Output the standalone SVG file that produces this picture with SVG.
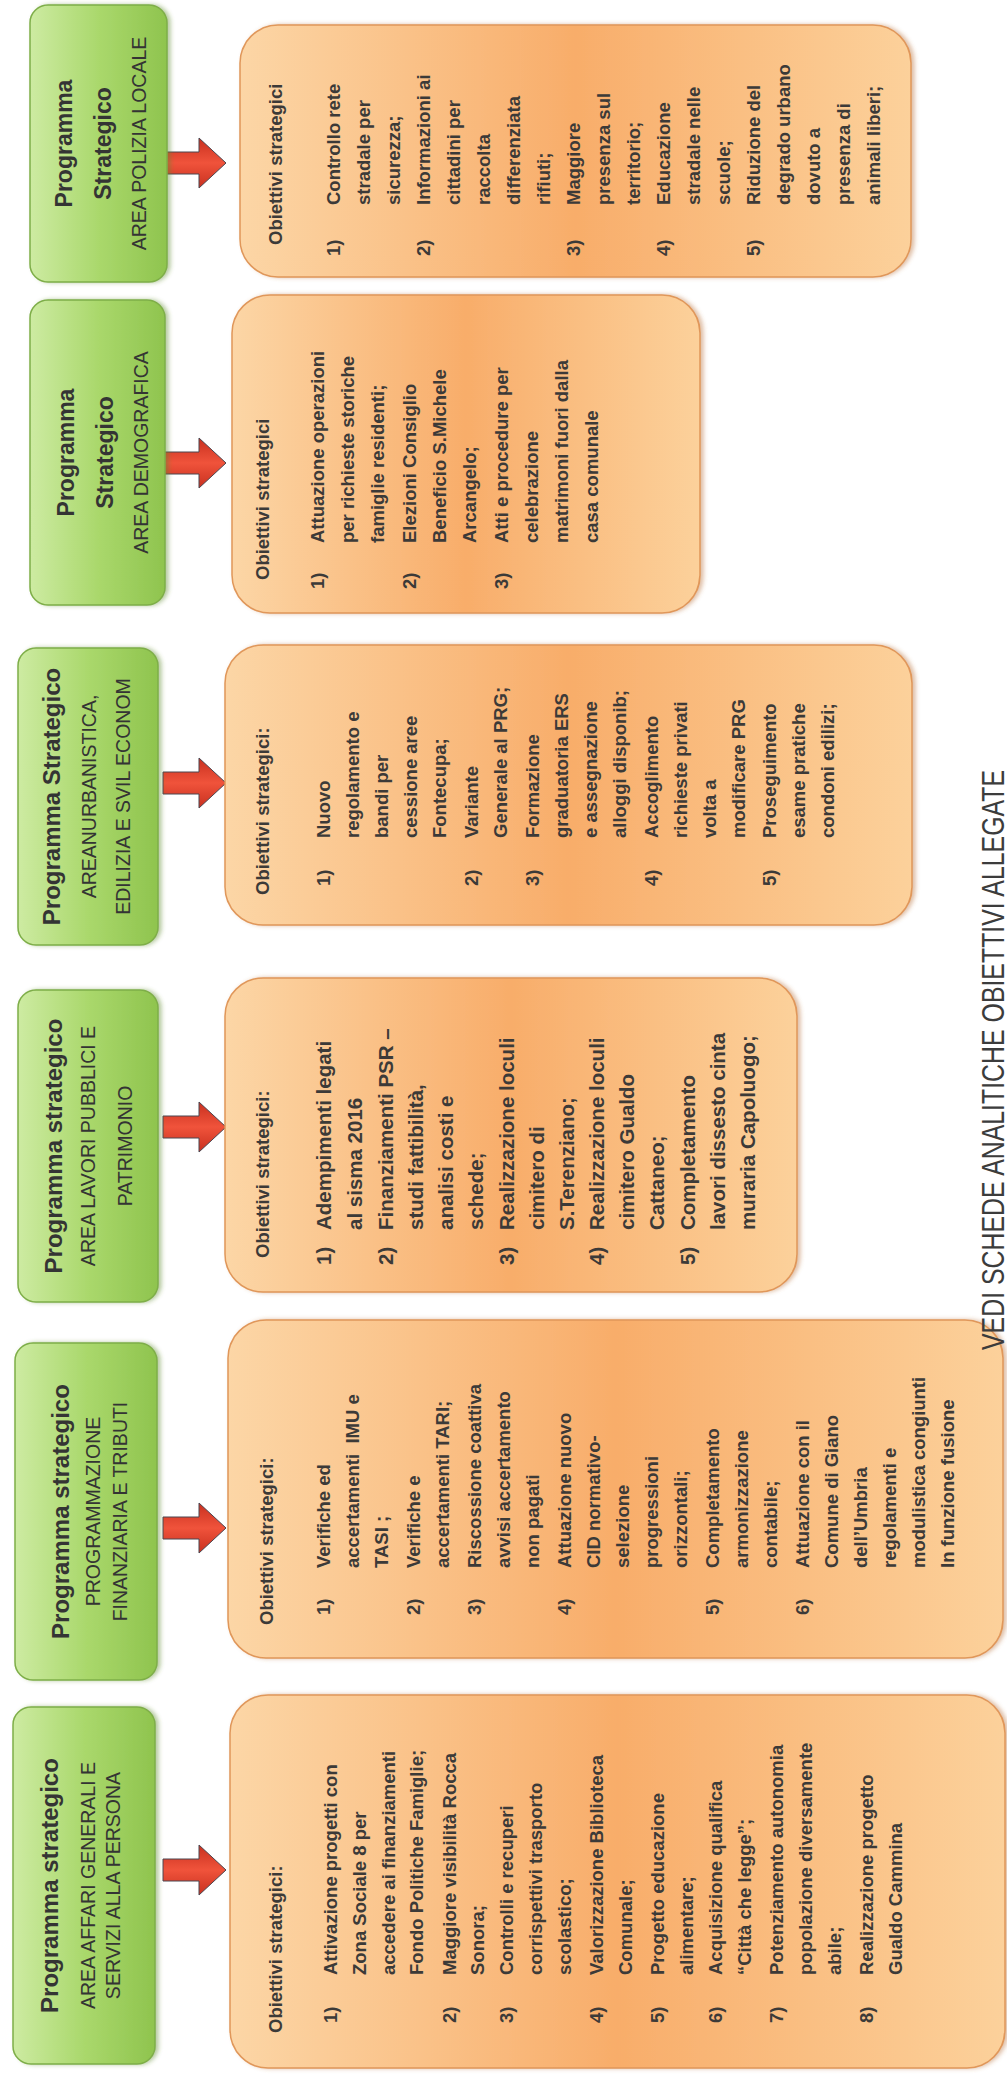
<svg xmlns="http://www.w3.org/2000/svg" xmlns:xlink="http://www.w3.org/1999/xlink" width="1007" height="2075" viewBox="0 0 1007 2075">
<style>
.gbox{fill:url(#gg);stroke:#7eae48;stroke-width:1.5;filter:url(#gsh)}
.obox{fill:url(#og);stroke:#e0975a;stroke-width:1.5;filter:url(#osh)}
.arr{fill:url(#ag);stroke:#4b4650;stroke-width:1}
.gt{font-family:"Liberation Sans",Arial,sans-serif;font-weight:bold;font-size:23px;fill:#343434;text-anchor:middle}
.gt2{font-size:24px}
.gs{font-family:"Liberation Sans",Arial,sans-serif;font-size:19.5px;fill:#343434;text-anchor:middle}
.t{font-family:"Liberation Sans",Arial,sans-serif;font-weight:bold;font-size:18.5px;fill:#3c3a38}
.t4{font-size:20.5px}
.note{font-family:"Liberation Sans",Arial,sans-serif;font-size:31px;fill:#3c3c3c}
</style>
<defs>
<linearGradient id="gg" x1="0" y1="0" x2="0" y2="1">
<stop offset="0" stop-color="#cdeba2"/>
<stop offset="0.5" stop-color="#aad86c"/>
<stop offset="1" stop-color="#8fc44e"/>
</linearGradient>
<linearGradient id="og" x1="0" y1="0" x2="0" y2="1">
<stop offset="0" stop-color="#fcd6a6"/>
<stop offset="0.5" stop-color="#f8ad6a"/>
<stop offset="1" stop-color="#fcd19b"/>
</linearGradient>
<linearGradient id="ag" x1="0" y1="0" x2="1" y2="0">
<stop offset="0" stop-color="#c8301f"/>
<stop offset="0.5" stop-color="#f0533b"/>
<stop offset="1" stop-color="#c8301f"/>
</linearGradient>
<filter id="osh" x="-5%" y="-5%" width="110%" height="110%">
<feDropShadow dx="0" dy="3" stdDeviation="2" flood-color="#b8723a" flood-opacity="0.45"/>
</filter>
<filter id="gsh" x="-5%" y="-5%" width="110%" height="115%">
<feDropShadow dx="0" dy="3" stdDeviation="2" flood-color="#5f8a2e" flood-opacity="0.45"/>
</filter>
<path id="arrow" d="M-11,0 L11,0 L11,36 L25,36 L0,63 L-25,36 L-11,36 Z"/>
</defs>
<rect width="1007" height="2075" fill="#ffffff"/>
<g id="page" transform="translate(0,2075) rotate(-90)">

<g id="connectors">
<use xlink:href="#arrow" class="arr" transform="translate(1912,163)"/>
<use xlink:href="#arrow" class="arr" transform="translate(1612,163)"/>
<use xlink:href="#arrow" class="arr" transform="translate(1292,163)"/>
<use xlink:href="#arrow" class="arr" transform="translate(948,163)"/>
<use xlink:href="#arrow" class="arr" transform="translate(547,163)"/>
<use xlink:href="#arrow" class="arr" transform="translate(205,163)"/>
</g>

<!-- Green program boxes -->
<g id="prog-affari">
<rect class="gbox" x="11" y="13" width="357" height="142" rx="18"/>
<text class="gt gt2" x="189.5" y="58">Programma strategico</text>
<text class="gs" x="189.5" y="95">AREA AFFARI GENERALI E</text>
<text class="gs" x="189.5" y="120">SERVIZI ALLA PERSONA</text>
</g>
<g id="prog-finanziaria">
<rect class="gbox" x="395" y="15" width="337" height="142" rx="18"/>
<text class="gt gt2" x="563.5" y="69">Programma strategico</text>
<text class="gs" x="563.5" y="100">PROGRAMMAZIONE</text>
<text class="gs" x="563.5" y="127">FINANZIARIA E TRIBUTI</text>
</g>
<g id="prog-lavori">
<rect class="gbox" x="773" y="18" width="312" height="140" rx="18"/>
<text class="gt gt2" x="929" y="62">Programma strategico</text>
<text class="gs" x="929" y="95">AREA LAVORI PUBBLICI E</text>
<text class="gs" x="929" y="132">PATRIMONIO</text>
</g>
<g id="prog-urbanistica">
<rect class="gbox" x="1130" y="18" width="297" height="140" rx="18"/>
<text class="gt gt2" x="1278.5" y="60">Programma Strategico</text>
<text class="gs" x="1278.5" y="96">AREANURBANISTICA,</text>
<text class="gs" x="1278.5" y="130">EDILIZIA E SVIL ECONOM</text>
</g>
<g id="prog-demografica">
<rect class="gbox" x="1470" y="30" width="305" height="135" rx="18"/>
<text class="gt" x="1622.5" y="74">Programma</text>
<text class="gt" x="1622.5" y="113">Strategico</text>
<text class="gs" x="1622.5" y="148">AREA DEMOGRAFICA</text>
</g>
<g id="prog-polizia">
<rect class="gbox" x="1793" y="30" width="277" height="137" rx="18"/>
<text class="gt" x="1931.5" y="72">Programma</text>
<text class="gt" x="1931.5" y="111">Strategico</text>
<text class="gs" x="1931.5" y="146">AREA POLIZIA LOCALE</text>
</g>

<!-- Orange objective boxes -->
<g id="obj-affari">
<rect class="obox" x="7" y="230" width="373" height="775" rx="38"/>
<text class="t" x="42" y="282">Obiettivi strategici:</text>
<text class="t" x="52" y="337">1)</text>
<text class="t" x="52" y="456">2)</text>
<text class="t" x="52" y="513">3)</text>
<text class="t" x="52" y="603">4)</text>
<text class="t" x="52" y="664">5)</text>
<text class="t" x="52" y="722">6)</text>
<text class="t" x="52" y="783">7)</text>
<text class="t" x="52" y="873">8)</text>
<text class="t" x="100" y="337">Attivazione progetti con</text>
<text class="t" x="100" y="366">Zona Sociale 8 per</text>
<text class="t" x="100" y="395">accedere ai finanziamenti</text>
<text class="t" x="100" y="423">Fondo Politiche Famiglie;</text>
<text class="t" x="100" y="456">Maggiore visibilità Rocca</text>
<text class="t" x="100" y="484">Sonora;</text>
<text class="t" x="100" y="513">Controlli e recuperi</text>
<text class="t" x="100" y="542">corrispettivi trasporto</text>
<text class="t" x="100" y="571">scolastico;</text>
<text class="t" x="100" y="603">Valorizzazione Biblioteca</text>
<text class="t" x="100" y="632">Comunale;</text>
<text class="t" x="100" y="664">Progetto educazione</text>
<text class="t" x="100" y="693">alimentare;</text>
<text class="t" x="100" y="722">Acquisizione qualifica</text>
<text class="t" x="100" y="751">“Città che legge”;</text>
<text class="t" x="100" y="783">Potenziamento autonomia</text>
<text class="t" x="100" y="812">popolazione diversamente</text>
<text class="t" x="100" y="841">abile;</text>
<text class="t" x="100" y="873">Realizzazione progetto</text>
<text class="t" x="100" y="902">Gualdo Cammina</text>
</g>

<g id="obj-finanziaria">
<rect class="obox" x="417" y="228" width="338" height="775" rx="38"/>
<text class="t" x="450" y="273">Obiettivi strategici:</text>
<text class="t" x="460" y="330">1)</text>
<text class="t" x="460" y="420">2)</text>
<text class="t" x="460" y="481">3)</text>
<text class="t" x="460" y="571">4)</text>
<text class="t" x="460" y="719">5)</text>
<text class="t" x="460" y="809">6)</text>
<text class="t" x="507" y="330">Verifiche ed</text>
<text class="t" x="507" y="359" xml:space="preserve">accertamenti  IMU e</text>
<text class="t" x="507" y="388">TASI ;</text>
<text class="t" x="507" y="420">Verifiche e</text>
<text class="t" x="507" y="449">accertamenti TARI;</text>
<text class="t" x="507" y="481">Riscossione coattiva</text>
<text class="t" x="507" y="510">avvisi accertamento</text>
<text class="t" x="507" y="539">non pagati</text>
<text class="t" x="507" y="571">Attuazione nuovo</text>
<text class="t" x="507" y="600">CID normativo-</text>
<text class="t" x="507" y="629">selezione</text>
<text class="t" x="507" y="658">progressioni</text>
<text class="t" x="507" y="687">orizzontali;</text>
<text class="t" x="507" y="719">Completamento</text>
<text class="t" x="507" y="748">armonizzazione</text>
<text class="t" x="507" y="777">contabile;</text>
<text class="t" x="507" y="809">Attuazione con il</text>
<text class="t" x="507" y="838">Comune di Giano</text>
<text class="t" x="507" y="867">dell’Umbria</text>
<text class="t" x="507" y="896">regolamenti e</text>
<text class="t" x="507" y="925">modulistica congiunti</text>
<text class="t" x="507" y="954">In funzione fusione</text>
</g>

<g id="obj-lavori">
<rect class="obox" x="783" y="225" width="314" height="572" rx="38"/>
<text class="t" x="817" y="269">Obiettivi strategici:</text>
<text class="t t4" x="810" y="331">1)</text>
<text class="t t4" x="810" y="393">2)</text>
<text class="t t4" x="810" y="514">3)</text>
<text class="t t4" x="810" y="604">4)</text>
<text class="t t4" x="810" y="695">5)</text>
<text class="t t4" x="845" y="331">Adempimenti legati</text>
<text class="t t4" x="845" y="362">al sisma 2016</text>
<text class="t t4" x="845" y="393">Finanziamenti PSR –</text>
<text class="t t4" x="845" y="423">studi fattibilità,</text>
<text class="t t4" x="845" y="453">analisi costi e</text>
<text class="t t4" x="845" y="483">schede;</text>
<text class="t t4" x="845" y="514">Realizzazione loculi</text>
<text class="t t4" x="845" y="544">cimitero di</text>
<text class="t t4" x="845" y="574">S.Terenziano;</text>
<text class="t t4" x="845" y="604">Realizzazione loculi</text>
<text class="t t4" x="845" y="634">cimitero Gualdo</text>
<text class="t t4" x="845" y="664">Cattaneo;</text>
<text class="t t4" x="845" y="695">Completamento</text>
<text class="t t4" x="845" y="725">lavori dissesto cinta</text>
<text class="t t4" x="845" y="755">muraria Capoluogo;</text>
</g>

<g id="obj-urbanistica">
<rect class="obox" x="1150" y="225" width="280" height="687" rx="38"/>
<text class="t" x="1180" y="269">Obiettivi strategici:</text>
<text class="t" x="1189" y="330">1)</text>
<text class="t" x="1189" y="478">2)</text>
<text class="t" x="1189" y="539">3)</text>
<text class="t" x="1189" y="658">4)</text>
<text class="t" x="1189" y="776">5)</text>
<text class="t" x="1237" y="330">Nuovo</text>
<text class="t" x="1237" y="359">regolamento e</text>
<text class="t" x="1237" y="388">bandi per</text>
<text class="t" x="1237" y="417">cessione aree</text>
<text class="t" x="1237" y="446">Fontecupa;</text>
<text class="t" x="1237" y="478">Variante</text>
<text class="t" x="1237" y="507">Generale al PRG;</text>
<text class="t" x="1237" y="539">Formazione</text>
<text class="t" x="1237" y="568">graduatoria ERS</text>
<text class="t" x="1237" y="597">e assegnazione</text>
<text class="t" x="1237" y="626">alloggi disponib;</text>
<text class="t" x="1237" y="658">Accoglimento</text>
<text class="t" x="1237" y="687">richieste privati</text>
<text class="t" x="1237" y="716">volta a</text>
<text class="t" x="1237" y="745">modificare PRG</text>
<text class="t" x="1237" y="776">Proseguimento</text>
<text class="t" x="1237" y="805">esame pratiche</text>
<text class="t" x="1237" y="834">condoni edilizi;</text>
</g>

<g id="obj-demografica">
<rect class="obox" x="1462" y="232" width="318" height="468" rx="38"/>
<text class="t" x="1495" y="269">Obiettivi strategici</text>
<text class="t" x="1486" y="324">1)</text>
<text class="t" x="1486" y="416">2)</text>
<text class="t" x="1486" y="508">3)</text>
<text class="t" x="1532" y="324">Attuazione operazioni</text>
<text class="t" x="1532" y="354">per richieste storiche</text>
<text class="t" x="1532" y="384">famiglie residenti;</text>
<text class="t" x="1532" y="416">Elezioni Consiglio</text>
<text class="t" x="1532" y="446">Beneficio S.Michele</text>
<text class="t" x="1532" y="476">Arcangelo;</text>
<text class="t" x="1532" y="508">Atti e procedure per</text>
<text class="t" x="1532" y="538">celebrazione</text>
<text class="t" x="1532" y="568">matrimoni fuori dalla</text>
<text class="t" x="1532" y="598">casa comunale</text>
</g>

<g id="obj-polizia">
<rect class="obox" x="1798" y="240" width="252" height="671" rx="38"/>
<text class="t" x="1830" y="282">Obiettivi strategici</text>
<text class="t" x="1819" y="340">1)</text>
<text class="t" x="1819" y="430">2)</text>
<text class="t" x="1819" y="580">3)</text>
<text class="t" x="1819" y="670">4)</text>
<text class="t" x="1819" y="760">5)</text>
<text class="t" x="1870" y="340">Controllo rete</text>
<text class="t" x="1870" y="370">stradale per</text>
<text class="t" x="1870" y="400">sicurezza;</text>
<text class="t" x="1870" y="430">Informazioni ai</text>
<text class="t" x="1870" y="460">cittadini per</text>
<text class="t" x="1870" y="490">raccolta</text>
<text class="t" x="1870" y="520">differenziata</text>
<text class="t" x="1870" y="550">rifiuti;</text>
<text class="t" x="1870" y="580">Maggiore</text>
<text class="t" x="1870" y="610">presenza sul</text>
<text class="t" x="1870" y="640">territorio;</text>
<text class="t" x="1870" y="670">Educazione</text>
<text class="t" x="1870" y="700">stradale nelle</text>
<text class="t" x="1870" y="730">scuole;</text>
<text class="t" x="1870" y="760">Riduzione del</text>
<text class="t" x="1870" y="790">degrado urbano</text>
<text class="t" x="1870" y="820">dovuto a</text>
<text class="t" x="1870" y="850">presenza di</text>
<text class="t" x="1870" y="880">animali liberi;</text>
</g>

<text class="note" x="725" y="1004" textLength="580" lengthAdjust="spacingAndGlyphs">VEDI SCHEDE ANALITICHE OBIETTIVI ALLEGATE</text>
</g>
</svg>
